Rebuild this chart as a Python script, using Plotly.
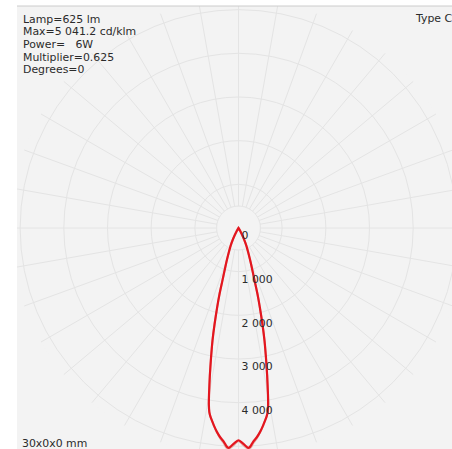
import numpy as np
import plotly.graph_objects as go

# ---------------- data (cd/klm vs gamma angle, Type C) ----------------
gamma_deg = [0, 1, 2, 2.5, 3, 3.5, 4, 5, 6, 7, 8, 8.5, 9, 9.5, 10, 11, 12, 13, 14, 15,
             16, 17, 18, 19, 20, 22, 24, 26, 28, 30, 32, 35, 40, 60, 90, 120, 150, 180]
c0_c180 = [4860, 4920, 5000, 5041, 5020, 4960, 4900, 4810, 4700, 4570, 4430, 4360,
           4270, 4110, 3890, 3440, 3020, 2650, 2260, 1900, 1580, 1260, 1050, 900,
           770, 580, 440, 300, 170, 80, 30, 10, 0, 0, 0, 0, 0, 0]
c90_c270 = [4880, 4950, 5030, 5060, 5050, 5000, 4930, 4830, 4710, 4575, 4430, 4360,
            4270, 4110, 3890, 3440, 3020, 2650, 2260, 1900, 1580, 1260, 1050, 900,
            770, 580, 440, 300, 170, 80, 30, 10, 0, 0, 0, 0, 0, 0]

radial_ticks = [0, 1000, 2000, 3000, 4000, 5000]
radial_tick_labels = ["0", "1 000", "2 000", "3 000", "4 000", "5 000"]
ring_values = [500, 1000, 2000, 3000, 4000, 5000]
spoke_angles = list(range(0, 360, 10))
inner_ring = 500

info_lines = ["Lamp=625 lm", "Max=5 041.2 cd/klm", "Power=   6W",
              "Multiplier=0.625", "Degrees=0"]
type_label = "Type C"
size_label = "30x0x0 mm"

# ---------------- layout constants ----------------
W, H = 470, 460
CX, CY = 238.5, 228.0          # centre in px from top-left
R = 228.0                      # polar radius in px
PX_PER_1000 = 43.67
RMAX = R / PX_PER_1000 * 1000

BG = "#f3f3f3"
GRID = "#e4e4e4"
RED = "#e3161f"
TXT = "#2b2b2b"
FONT = "DejaVu Sans"
FS = 10.9


def px(x):
    return x / W


def py(y):
    return 1 - y / H


def mirror(g, v):
    th = [-a for a in g[::-1]] + list(g[1:])
    rr = list(v[::-1]) + list(v[1:])
    return th, rr


fig = go.Figure()

# inner plain disc (hides spokes near the centre)
circ = np.arange(0, 361, 2)
fig.add_trace(go.Scatterpolar(
    r=[inner_ring] * len(circ), theta=circ, mode="lines", fill="toself",
    fillcolor=BG, line=dict(color=GRID, width=1), hoverinfo="skip", showlegend=False))

th90, r90 = mirror(gamma_deg, c90_c270)
fig.add_trace(go.Scatterpolar(
    r=r90, theta=th90, mode="lines",
    line=dict(color="rgba(225,150,140,0.75)", width=2, shape="spline", smoothing=0.6),
    showlegend=False))

th0, r0 = mirror(gamma_deg, c0_c180)
fig.add_trace(go.Scatterpolar(
    r=r0, theta=th0, mode="lines",
    line=dict(color=RED, width=2.2, shape="spline", smoothing=0.6),
    showlegend=False))

# radial tick labels along the 0 deg (downward) axis
fig.add_trace(go.Scatterpolar(
    r=radial_ticks, theta=[0] * len(radial_ticks), mode="markers+text",
    text=radial_tick_labels, textposition="bottom right",
    marker=dict(size=3.2, opacity=0), cliponaxis=False,
    textfont=dict(family=FONT, size=FS, color=TXT), showlegend=False, hoverinfo="skip"))

annotations = []
for i, line in enumerate(info_lines):
    annotations.append(dict(
        text=line, x=px(21), y=py(19.2 + i * 12.65), xref="paper", yref="paper",
        xanchor="left", yanchor="middle", showarrow=False,
        font=dict(family=FONT, size=FS, color=TXT)))
annotations.append(dict(
    text=type_label, x=px(412.5), y=py(18.8), xref="paper", yref="paper",
    xanchor="left", yanchor="middle", showarrow=False,
    font=dict(family=FONT, size=FS, color=TXT)))
annotations.append(dict(
    text=size_label, x=px(20), y=py(443), xref="paper", yref="paper",
    xanchor="left", yanchor="middle", showarrow=False,
    font=dict(family=FONT, size=FS, color=TXT)))

shapes = [
    dict(type="rect", xref="paper", yref="paper", x0=0, x1=px(17), y0=0, y1=1,
         fillcolor="white", line=dict(width=0), layer="above"),
    dict(type="rect", xref="paper", yref="paper", x0=0, x1=1, y0=py(6), y1=1,
         fillcolor="white", line=dict(width=0), layer="above"),
    dict(type="line", xref="paper", yref="paper", x0=px(17), x1=1, y0=py(6), y1=py(6),
         line=dict(color="#cccccc", width=1), layer="above"),
]

fig.update_layout(
    width=W, height=H, margin=dict(l=0, r=0, t=0, b=0),
    paper_bgcolor=BG, plot_bgcolor=BG,
    polar=dict(
        domain=dict(x=[(CX - R) / W, (CX + R) / W],
                    y=[(H - CY - R) / H, (H - CY + R) / H]),
        bgcolor=BG,
        radialaxis=dict(range=[0, RMAX], tickvals=ring_values, showticklabels=False,
                        ticks="", showline=False, gridcolor=GRID, gridwidth=1),
        angularaxis=dict(rotation=-90, direction="counterclockwise",
                         tickvals=spoke_angles, showticklabels=False, ticks="",
                         showline=False, gridcolor=GRID, gridwidth=1),
    ),
    annotations=annotations, shapes=shapes, showlegend=False,
)

fig.write_html(
    "out.html",
    config={"displayModeBar": False, "responsive": False},
    post_script=("document.body.style.margin='0';"
                 "document.body.style.overflow='hidden';"
                 "document.documentElement.style.overflow='hidden';"
                 "document.body.style.background='" + BG + "';"
                 "document.documentElement.style.background='" + BG + "';"),
)
